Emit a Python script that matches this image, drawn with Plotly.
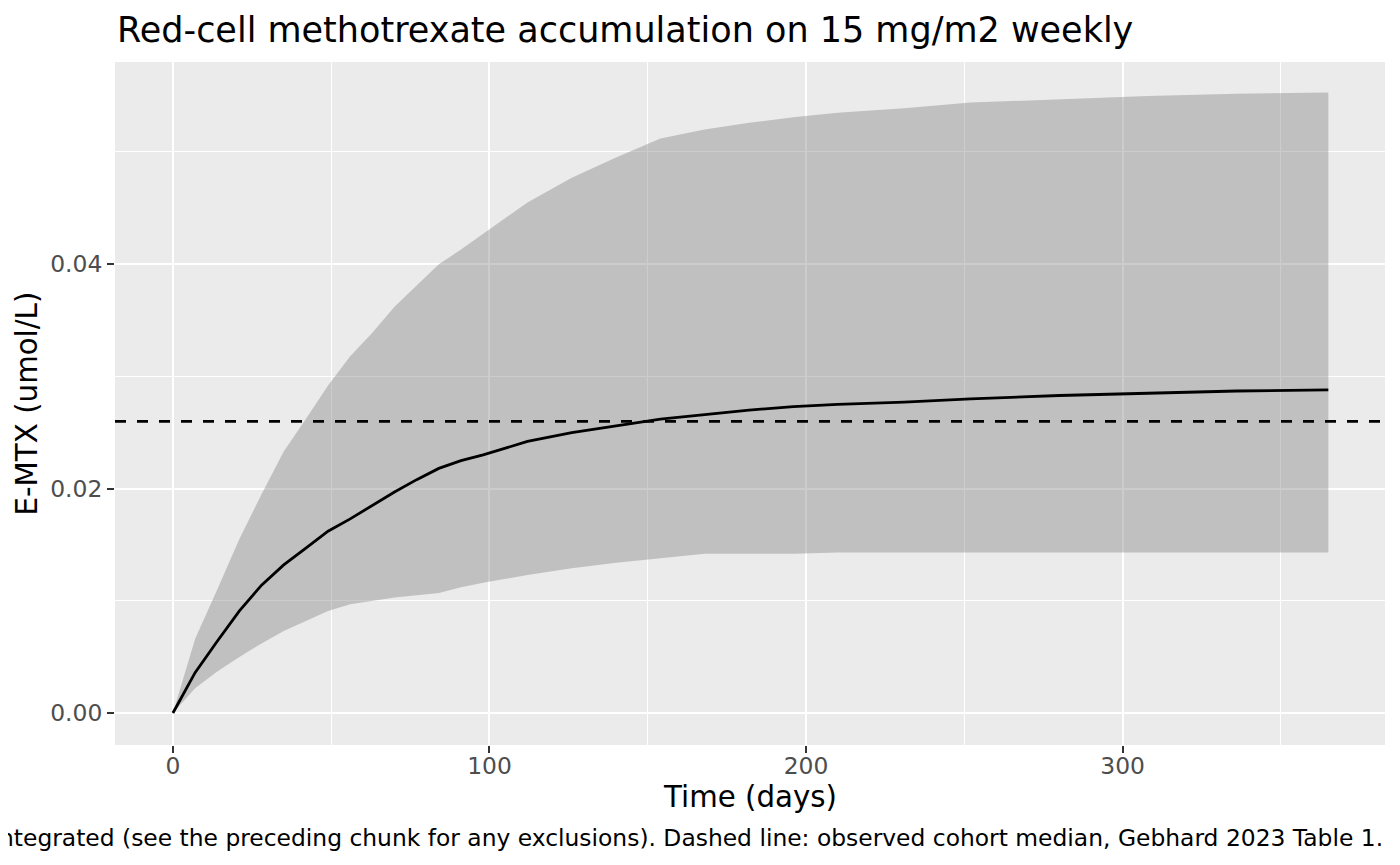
import plotly.graph_objects as go

# === DATA ===
days = [0, 7, 14, 21, 28, 35, 42, 49, 56, 63, 70, 77, 84, 91, 98,
        112, 126, 140, 154, 168, 182, 196, 210, 231, 252, 280, 308, 336, 365]
emtx_median = [0.0, 0.0036, 0.0064, 0.0091, 0.0114, 0.0132, 0.0147, 0.0162, 0.0173, 0.0185,
               0.0197, 0.0208, 0.0218, 0.0225, 0.0230, 0.0242, 0.0250, 0.0256, 0.0262, 0.0266,
               0.0270, 0.0273, 0.0275, 0.0277, 0.0280, 0.0283, 0.0285, 0.0287, 0.0288]
emtx_upper = [0.0, 0.0066, 0.0110, 0.0155, 0.0195, 0.0233, 0.0262, 0.0292, 0.0318, 0.0339,
              0.0362, 0.0381, 0.0400, 0.0413, 0.0427, 0.0455, 0.0477, 0.0495, 0.0512, 0.0520,
              0.0526, 0.0531, 0.0535, 0.0539, 0.0544, 0.0547, 0.0550, 0.0552, 0.0553]
emtx_lower = [0.0, 0.0022, 0.0037, 0.0050, 0.0062, 0.0073, 0.0082, 0.0091, 0.0097, 0.0100,
              0.0103, 0.0105, 0.0107, 0.0112, 0.0116, 0.0123, 0.0129, 0.0134, 0.0138, 0.0142,
              0.0142, 0.0142, 0.0143, 0.0143, 0.0143, 0.0143, 0.0143, 0.0143, 0.0143]
OBS_MEDIAN = 0.026   # Gebhard 2023 Table 1

TITLE = 'Red-cell methotrexate accumulation on 15 mg/m2 weekly'
CAPTION = ('ntegrated (see the preceding chunk for any exclusions). '
           'Dashed line: observed cohort median, Gebhard 2023 Table 1.')

FONT = 'DejaVu Sans'

fig = go.Figure()

# ribbon: lower first, then upper filled to it
fig.add_trace(go.Scatter(x=days, y=emtx_lower, mode='lines', line=dict(width=0),
                         showlegend=False, hoverinfo='skip'))
fig.add_trace(go.Scatter(x=days, y=emtx_upper, mode='lines', line=dict(width=0),
                         fill='tonexty', fillcolor='rgba(127,127,127,0.4)',
                         showlegend=False, hoverinfo='skip'))
# median
fig.add_trace(go.Scatter(x=days, y=emtx_median, mode='lines',
                         line=dict(color='black', width=2.8), showlegend=False))
# observed median
fig.add_hline(y=OBS_MEDIAN, line=dict(color='black', width=2.8, dash='11px,11px'))

fig.update_xaxes(range=[-18.3, 382.9], tickvals=[0, 100, 200, 300],
                 showgrid=True, gridcolor='white', gridwidth=2.2,
                 minor=dict(tickvals=[50, 150, 250, 350], showgrid=True,
                            gridcolor='white', gridwidth=1.1),
                 ticks='outside', ticklen=7, tickwidth=1.6, tickcolor='#333333',
                 ticklabelstandoff=-7,
                 tickfont=dict(family=FONT, size=23.4, color='#4D4D4D'),
                 zeroline=False, showline=False)
fig.update_yaxes(range=[-0.00285, 0.05802], tickvals=[0, 0.02, 0.04],
                 tickformat='.2f',
                 showgrid=True, gridcolor='white', gridwidth=2.2,
                 minor=dict(tickvals=[0.01, 0.03, 0.05], showgrid=True,
                            gridcolor='white', gridwidth=1.1),
                 ticks='outside', ticklen=7, tickwidth=1.6, tickcolor='#333333',
                 tickfont=dict(family=FONT, size=23.4, color='#4D4D4D'),
                 zeroline=False, showline=False)

# page body has an 8px margin, so the figure is a bit smaller and shifted
fig.update_layout(
    width=1392, height=857,
    margin=dict(l=107, r=15, t=54, b=120),
    paper_bgcolor='white', plot_bgcolor='#EBEBEB',
    font=dict(family=FONT, color='black'),
    annotations=[
        dict(text=TITLE, xref='paper', yref='paper', x=0, y=1.0469,
             xanchor='left', yanchor='middle', showarrow=False,
             font=dict(family=FONT, size=35, color='black')),
        dict(text='Time (days)', xref='paper', yref='paper', x=0.5, y=-0.0761,
             xanchor='center', yanchor='middle', showarrow=False,
             font=dict(family=FONT, size=29.3, color='black')),
        dict(text='E-MTX (umol/L)', xref='paper', yref='paper', x=-0.0693, y=0.5,
             xanchor='center', yanchor='middle', textangle=-90, showarrow=False,
             font=dict(family=FONT, size=29.3, color='black')),
        dict(text=CAPTION, xref='paper', yref='paper', x=1, y=-0.136,
             xanchor='right', yanchor='middle', showarrow=False,
             font=dict(family=FONT, size=23.4, color='black')),
    ],
)

fig.write_html('out.html')
